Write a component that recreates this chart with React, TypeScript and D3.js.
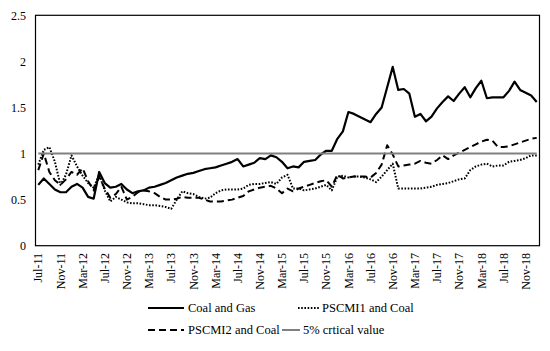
import React from "react";
import * as d3 from "d3";

// monthly categories, Jul-11 .. Jan-19
const months: string[] = d3
  .timeMonths(new Date(2011, 6, 1), new Date(2019, 1, 1))
  .map(d3.timeFormat("%b-%y"));

const coalGas = [
  0.66, 0.73, 0.67, 0.61, 0.58, 0.58, 0.64, 0.67, 0.63, 0.53, 0.51, 0.8, 0.68,
  0.63, 0.64, 0.67, 0.61, 0.57, 0.59, 0.6, 0.63, 0.64, 0.66, 0.68, 0.71, 0.74,
  0.76, 0.78, 0.79, 0.81, 0.83, 0.84, 0.85, 0.87, 0.89, 0.91, 0.94, 0.86, 0.88,
  0.9, 0.95, 0.94, 0.98, 0.96, 0.91, 0.84, 0.86, 0.85, 0.91, 0.92, 0.93, 0.99,
  1.03, 1.03, 1.16, 1.24, 1.45, 1.43, 1.4, 1.37, 1.34, 1.43, 1.5, 1.72, 1.94,
  1.69, 1.7, 1.65, 1.4, 1.43, 1.35, 1.4, 1.49, 1.56, 1.62, 1.57, 1.65, 1.72,
  1.61, 1.71, 1.79, 1.6, 1.61, 1.61, 1.61, 1.68, 1.78, 1.69, 1.66, 1.63, 1.56,
];

const pscmi1Coal = [
  0.88, 1.04, 1.07, 0.91, 0.66, 0.77, 0.98, 0.86, 0.76, 0.68, 0.63, 0.77, 0.6,
  0.48, 0.53, 0.5, 0.47, 0.46, 0.46, 0.45, 0.44, 0.44, 0.43, 0.42, 0.4, 0.5,
  0.59, 0.57, 0.56, 0.53, 0.51, 0.52, 0.57, 0.6, 0.61, 0.61, 0.61, 0.62, 0.66,
  0.67, 0.67, 0.68, 0.69, 0.67, 0.74, 0.77, 0.62, 0.62, 0.6, 0.61, 0.62, 0.64,
  0.66, 0.6, 0.75, 0.76, 0.74, 0.75, 0.75, 0.74, 0.72, 0.69, 0.75, 0.82, 0.89,
  0.62, 0.62, 0.62, 0.62, 0.62, 0.63, 0.64, 0.66, 0.67, 0.68, 0.7, 0.72, 0.73,
  0.82, 0.86, 0.88, 0.89, 0.86, 0.87, 0.87, 0.91, 0.92, 0.93, 0.95, 0.98, 0.98,
];

const pscmi2Coal = [
  0.82, 1.0, 0.8, 0.71, 0.66, 0.72, 0.8, 0.77, 0.84, 0.7, 0.6, 0.75, 0.62,
  0.52, 0.56, 0.64, 0.5, 0.53, 0.58, 0.6, 0.59, 0.57, 0.53, 0.5, 0.5, 0.51,
  0.53, 0.52, 0.52, 0.52, 0.5, 0.48, 0.48, 0.48, 0.49, 0.5, 0.52, 0.54, 0.59,
  0.61, 0.63, 0.64, 0.65, 0.62, 0.57, 0.62, 0.59, 0.62, 0.64, 0.66, 0.68, 0.7,
  0.71, 0.64, 0.77, 0.73, 0.74, 0.75, 0.75, 0.75, 0.74, 0.79, 0.88, 1.09, 0.99,
  0.86, 0.87, 0.88, 0.89, 0.92, 0.9, 0.89, 0.93, 0.98, 0.94, 0.98, 1.01, 1.04,
  1.07, 1.1, 1.13, 1.15, 1.14, 1.07, 1.07, 1.08, 1.1, 1.12, 1.14, 1.16, 1.17,
];

const criticalValue = months.map(() => 1);

const yTicks = [0, 0.5, 1, 1.5, 2, 2.5];

const series = [
  { name: "Coal and Gas", values: coalGas, color: "#000", width: 2.2, dash: "none" },
  { name: "PSCMI1 and Coal", values: pscmi1Coal, color: "#000", width: 2, dash: "1.6,1.6" },
  { name: "PSCMI2 and Coal", values: pscmi2Coal, color: "#000", width: 2, dash: "7,4" },
  { name: "5% crtical value", values: criticalValue, color: "#808080", width: 2, dash: "none" },
];

const serif = "'Liberation Serif', 'Tinos', 'Times New Roman', 'DejaVu Serif', serif";

const App: React.FC = () => {
  const width = 550;
  const height = 351;
  const plot = { left: 35.5, right: 539.5, top: 15.3, bottom: 245.7 };

  const xScale = d3
    .scaleBand<string>()
    .domain(months)
    .range([plot.left, plot.right])
    .padding(0);

  const yScale = d3
    .scaleLinear()
    .domain([0, 2.5])
    .range([plot.bottom, plot.top]);

  const cx = (m: string) => (xScale(m) ?? 0) + xScale.bandwidth() / 2;

  const line = d3
    .line<number>()
    .x((_, i) => cx(months[i]))
    .y((v) => yScale(v));

  // legend entries: sample x0..x1, text x, baseline y
  const legend = [
    { s: 0, x0: 148, x1: 184, tx: 188, y: 312 },
    { s: 1, x0: 298, x1: 320, tx: 322, y: 312 },
    { s: 2, x0: 148, x1: 184, tx: 188, y: 334 },
    { s: 3, x0: 282, x1: 300, tx: 303, y: 334 },
  ];

  return (
    <div style={{ position: "absolute", left: 0, top: 0, fontFamily: serif }}>
      <svg width={width} height={height} style={{ display: "block", background: "#fff" }}>
        <rect
          x={plot.left}
          y={plot.top}
          width={plot.right - plot.left}
          height={plot.bottom - plot.top}
          fill="none"
          stroke="#000"
          strokeWidth={1.2}
        />

        {yTicks.map((t) => (
          <text
            key={`y-${t}`}
            x={26}
            y={yScale(t)}
            dy="0.35em"
            textAnchor="end"
            fontSize={12}
            fill="#000"
          >
            {t}
          </text>
        ))}

        {months.map((m, i) => {
          if (i % 4 !== 0) return null;
          const x = cx(m);
          return (
            <text
              key={`x-${m}`}
              transform={`translate(${x}, 253) rotate(-90)`}
              dy="0.35em"
              textAnchor="end"
              fontSize={12}
              fill="#000"
            >
              {m}
            </text>
          );
        })}

        {series.map((s) => (
          <path
            key={s.name}
            d={line(s.values) ?? ""}
            fill="none"
            stroke={s.color}
            strokeWidth={s.width}
            strokeDasharray={s.dash}
            strokeLinejoin="round"
          />
        ))}

        {legend.map((l) => {
          const s = series[l.s];
          return (
            <g key={`lg-${s.name}`}>
              <line
                x1={l.x0}
                x2={l.x1}
                y1={l.y - 4}
                y2={l.y - 4}
                stroke={s.color}
                strokeWidth={s.width}
                strokeDasharray={s.dash}
              />
              <text x={l.tx} y={l.y} fontSize={12.5} fill="#000">
                {s.name}
              </text>
            </g>
          );
        })}
      </svg>
    </div>
  );
};

export default App;
